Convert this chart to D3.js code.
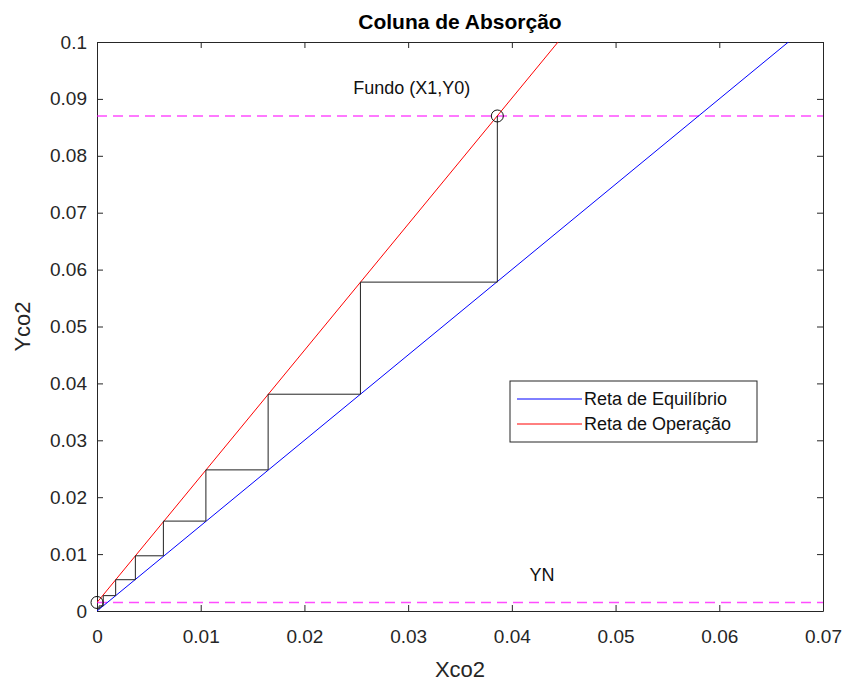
<!DOCTYPE html>
<html>
<head>
<meta charset="utf-8">
<script src="https://cdn.jsdelivr.net/npm/d3@7"></script>
<style>
body { margin: 0; background: #fff; }
text { font-family: "Liberation Sans", Arial, sans-serif; }
</style>
</head>
<body>
<div id="chart"></div>
<script>
// lines: [x, y] end points
const equilibrio = [[0, 0], [0.07, 0.105]];
const operacao = [[0, 0.0015], [0.07, 0.1566]];
// staircase vertices (x, y) from the bottom point of the column up
const degraus = [
  [0.0386, 0.087], [0.0386, 0.0578], [0.0254, 0.0578], [0.0254, 0.0381],
  [0.0165, 0.0381], [0.0165, 0.0248], [0.0105, 0.0248], [0.0105, 0.0158],
  [0.0064, 0.0158], [0.0064, 0.0097], [0.0037, 0.0097], [0.0037, 0.0055],
  [0.0018, 0.0055], [0.0018, 0.0027], [0.0006, 0.0027], [0.0006, 0.0009],
  [0.0002, 0.0009], [0.0002, 0.0003]
];
const horizontais = [0.087, 0.0015];
const pontos = [[0.0386, 0.087], [0, 0.0015]];
const rotulos = [
  {t: "Fundo (X1,Y0)", x: 0.0247, y: 0.0920},
  {t: "YN", x: 0.0417, y: 0.0063}
];
const xTicks = [0, 0.01, 0.02, 0.03, 0.04, 0.05, 0.06, 0.07];
const yTicks = [0, 0.01, 0.02, 0.03, 0.04, 0.05, 0.06, 0.07, 0.08, 0.09, 0.1];
const legenda = [
  {nome: "Reta de Equilíbrio", cor: "#0000ff"},
  {nome: "Reta de Operação", cor: "#ff0000"}
];

const W = 848, H = 686;
const margin = {top: 42, right: 25, bottom: 75, left: 97};
const width = W - margin.left - margin.right,
      height = H - margin.top - margin.bottom;
const axisColor = "#262626";

const svg = d3.select("#chart")
  .append("svg")
  .attr("width", W)
  .attr("height", H);

svg.append("defs").append("clipPath").attr("id", "clip")
  .append("rect").attr("width", width).attr("height", height);

const g = svg.append("g")
  .attr("transform", "translate(" + margin.left + "," + margin.top + ")");

const x = d3.scaleLinear().domain([0, 0.07]).range([0, width]);
const y = d3.scaleLinear().domain([0, 0.1]).range([height, 0]);

const fmt = d => d === 0 ? "0" : String(+d.toFixed(2));

// axes, ticks pointing inward (matlab style)
const tk = 6;
const xb = g.append("g").attr("transform", "translate(0," + height + ")")
  .call(d3.axisBottom(x).tickValues(xTicks).tickFormat(fmt).tickSizeInner(-tk).tickSizeOuter(0).tickPadding(19));
const xt = g.append("g")
  .call(d3.axisTop(x).tickValues(xTicks).tickFormat("").tickSizeInner(-tk).tickSizeOuter(0));
const yl = g.append("g")
  .call(d3.axisLeft(y).tickValues(yTicks).tickFormat(fmt).tickSizeInner(-tk).tickSizeOuter(0).tickPadding(10));
const yr = g.append("g").attr("transform", "translate(" + width + ",0)")
  .call(d3.axisRight(y).tickValues(yTicks).tickFormat("").tickSizeInner(-tk).tickSizeOuter(0));

[xb, xt, yl, yr].forEach(a => {
  a.selectAll("path").attr("stroke", axisColor);
  a.selectAll("line").attr("stroke", axisColor);
  a.selectAll("text").attr("fill", axisColor).style("font-size", "19px");
});

const line = d3.line().x(d => x(d[0])).y(d => y(d[1]));
const plot = g.append("g").attr("clip-path", "url(#clip)");

// dashed horizontal lines
plot.selectAll(".hz").data(horizontais).enter()
  .append("line")
  .attr("x1", x(0)).attr("x2", x(0.07))
  .attr("y1", d => y(d)).attr("y2", d => y(d))
  .attr("stroke", "#ff00ff")
  .attr("stroke-opacity", 0.7)
  .attr("stroke-width", 1.4)
  .attr("stroke-dasharray", "10,6");

plot.append("path").datum(equilibrio)
  .attr("d", line).attr("fill", "none").attr("stroke", legenda[0].cor).attr("stroke-width", 1);
plot.append("path").datum(operacao)
  .attr("d", line).attr("fill", "none").attr("stroke", legenda[1].cor).attr("stroke-width", 1);
plot.append("path").datum(degraus)
  .attr("d", line).attr("fill", "none").attr("stroke", "#222").attr("stroke-width", 1);

g.selectAll(".pt").data(pontos).enter()
  .append("circle")
  .attr("cx", d => x(d[0])).attr("cy", d => y(d[1]))
  .attr("r", 6)
  .attr("fill", "none").attr("stroke", "#111").attr("stroke-width", 1);

g.selectAll(".lbl").data(rotulos).enter()
  .append("text")
  .attr("x", d => x(d.x)).attr("y", d => y(d.y))
  .attr("dy", "0.35em")
  .style("font-size", "18px")
  .attr("fill", "#111")
  .text(d => d.t);

// title and axis labels
svg.append("text")
  .attr("x", margin.left + width / 2).attr("y", 22)
  .attr("dy", "0.35em")
  .attr("text-anchor", "middle")
  .style("font-size", "21px").style("font-weight", "bold")
  .attr("fill", "#000")
  .text("Coluna de Absorção");
svg.append("text")
  .attr("x", margin.left + width / 2).attr("y", 669)
  .attr("dy", "0.35em")
  .attr("text-anchor", "middle")
  .style("font-size", "22px")
  .attr("fill", axisColor)
  .text("Xco2");
svg.append("text")
  .attr("transform", "translate(22," + (margin.top + height / 2) + ") rotate(-90)")
  .attr("dy", "0.35em")
  .attr("text-anchor", "middle")
  .style("font-size", "22px")
  .attr("fill", axisColor)
  .text("Yco2");

// legend
const lg = svg.append("g").attr("transform", "translate(510,381)");
lg.append("rect")
  .attr("width", 247).attr("height", 61)
  .attr("fill", "#fff").attr("stroke", axisColor).attr("stroke-width", 1);
const items = lg.selectAll(".it").data(legenda).enter()
  .append("g")
  .attr("transform", (d, i) => "translate(0," + (18 + i * 25) + ")");
items.append("line")
  .attr("x1", 7).attr("x2", 72)
  .attr("stroke", d => d.cor).attr("stroke-width", 1);
items.append("text")
  .attr("x", 74).attr("dy", "0.35em")
  .style("font-size", "18px")
  .attr("fill", "#111")
  .text(d => d.nome);
</script>
</body>
</html>
